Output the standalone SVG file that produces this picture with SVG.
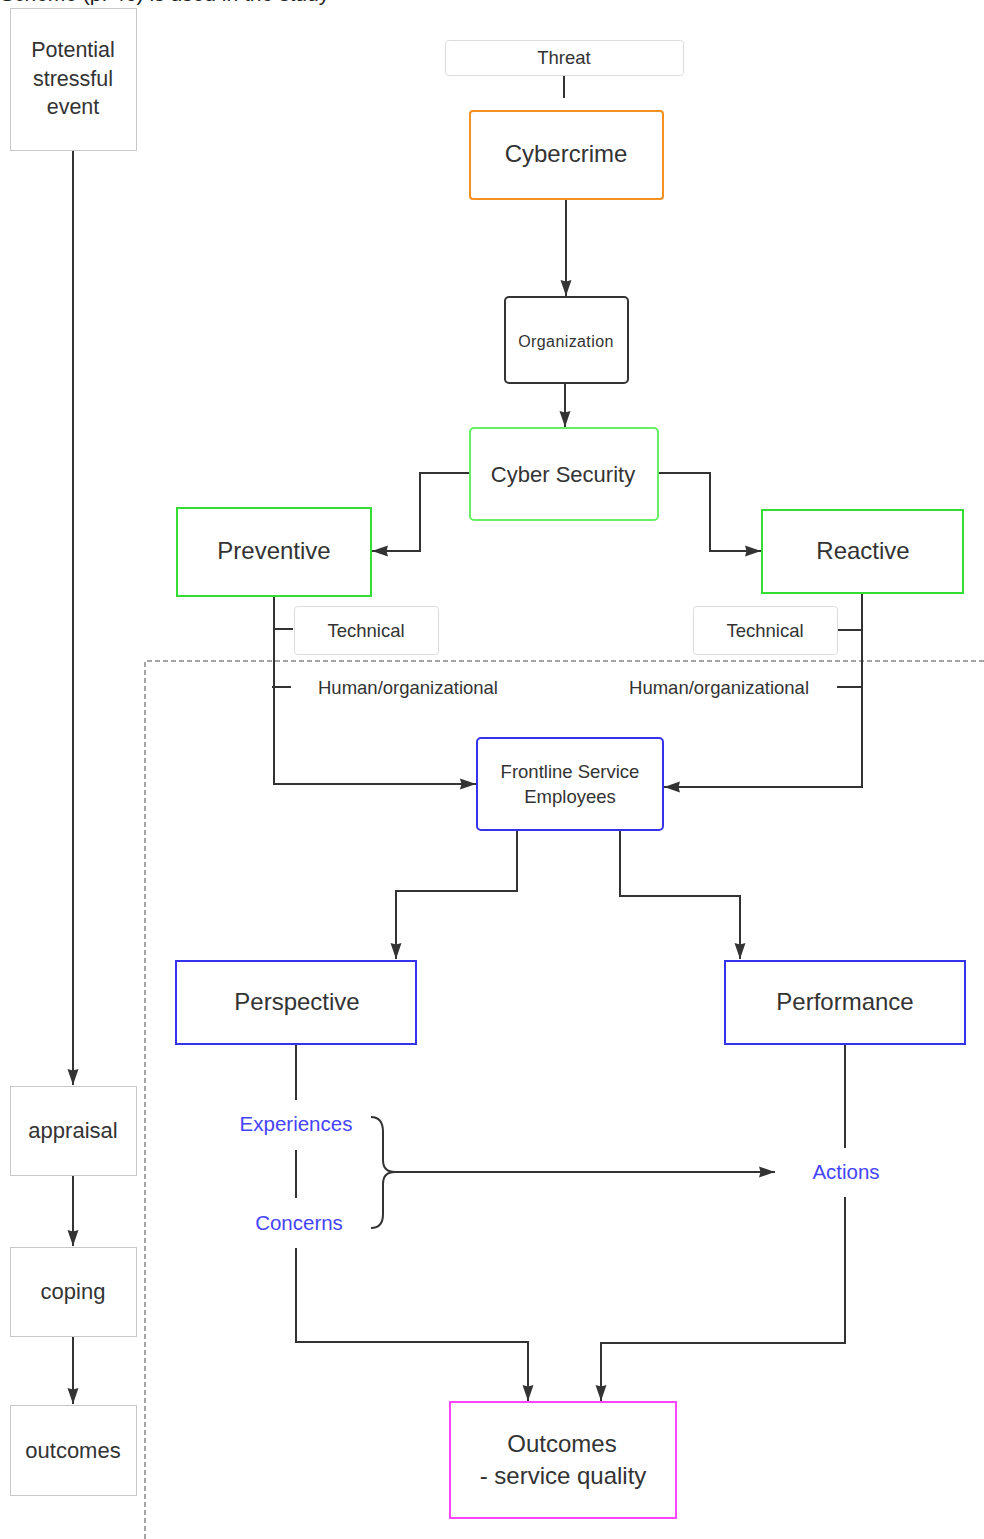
<svg xmlns="http://www.w3.org/2000/svg" width="984" height="1539" viewBox="0 0 984 1539">
<defs>
<marker id="ah" viewBox="0 0 16 12" refX="16" refY="6" markerWidth="16" markerHeight="12" markerUnits="userSpaceOnUse" orient="auto">
<path d="M0,0.5 L16,6 L0,11.5 L1.5,6 Z" fill="#333"/>
</marker>
<style>
text{font-family:"Liberation Sans",Arial,sans-serif;fill:#333;text-anchor:middle}
.c{fill:none;stroke:#333;stroke-width:2}
.a{marker-end:url(#ah)}
.grey{fill:#fff;stroke:#c8c8c8;stroke-width:1}
.lt{fill:#fff;stroke:#dcdcdc;stroke-width:1}
.blue{fill:#fff;stroke:#3333ee;stroke-width:2}
.bl{fill:#4444ff}
.big{font-size:24px}
</style>
</defs>
<rect width="984" height="1539" fill="#fff"/>
<text x="0" y="1" style="text-anchor:start;font-size:21px;fill:#222">Scheme (p. 46) is used in the study</text>

<g id="dashed">
<path d="M145,1539 V661 H984" fill="none" stroke="#888" stroke-width="1.5" stroke-dasharray="5,3"/>
</g>

<g id="connectors">
<path class="c a" d="M73,150 V1085"/>
<path class="c a" d="M73,1175 V1246"/>
<path class="c a" d="M73,1336 V1404"/>
<path class="c" d="M564,76 V98"/>
<path class="c a" d="M566,199 V296"/>
<path class="c a" d="M565,383 V427"/>
<path class="c a" d="M469,473 H420 V551 H372"/>
<path class="c a" d="M658,473 H710 V551 H761"/>
<path class="c a" d="M274,596 V784 H476"/>
<path class="c" d="M274,629 H293"/>
<path class="c" d="M272,687 H291"/>
<path class="c a" d="M862,593 V787 H664"/>
<path class="c" d="M838,630 H862"/>
<path class="c" d="M837,687 H862"/>
<path class="c a" d="M517,830 V891 H396 V959"/>
<path class="c a" d="M620,830 V896 H740 V959"/>
<path class="c" d="M296,1044 V1100"/>
<path class="c" d="M296,1150 V1198"/>
<path class="c a" d="M296,1248 V1342 H528 V1401"/>
<path class="c" d="M845,1044 V1148"/>
<path class="c a" d="M845,1197 V1343 H601 V1401"/>
<path class="c" d="M371,1117 Q383,1117 383,1132 V1160 Q383,1172 395,1172 Q383,1172 383,1184 V1214 Q383,1228 371,1228"/>
<path class="c a" d="M395,1172 H775"/>
</g>

<g id="n-potential">
<rect class="grey" x="10.5" y="8.5" width="126" height="142"/>
<text x="73" y="57" style="font-size:21.5px">Potential</text>
<text x="73" y="86" style="font-size:21.5px">stressful</text>
<text x="73" y="114" style="font-size:21.5px">event</text>
</g>
<g id="n-appraisal">
<rect class="grey" x="10.5" y="1086.5" width="126" height="89"/>
<text x="73" y="1138" style="font-size:22px">appraisal</text>
</g>
<g id="n-coping">
<rect class="grey" x="10.5" y="1247.5" width="126" height="89"/>
<text x="73" y="1299" style="font-size:22px">coping</text>
</g>
<g id="n-outcomes-left">
<rect class="grey" x="10.5" y="1405.5" width="126" height="90"/>
<text x="73" y="1458" style="font-size:22px">outcomes</text>
</g>

<g id="n-threat">
<rect class="lt" x="445.5" y="40.5" width="238" height="35" rx="3"/>
<text x="564" y="64" style="font-size:18.5px">Threat</text>
</g>
<g id="n-cybercrime">
<rect x="470" y="111" width="193" height="88" rx="3" fill="#fff" stroke="#f39020" stroke-width="2"/>
<text class="big" x="566" y="162">Cybercrime</text>
</g>
<g id="n-organization">
<rect x="505" y="297" width="123" height="86" rx="4" fill="#fff" stroke="#333" stroke-width="2"/>
<text x="566" y="347" style="font-size:16px;letter-spacing:0.4px">Organization</text>
</g>
<g id="n-cybersecurity">
<rect x="470" y="428" width="188" height="92" rx="4" fill="#fff" stroke="#66ee66" stroke-width="2"/>
<text x="563" y="482" style="font-size:22px">Cyber Security</text>
</g>
<g id="n-preventive">
<rect x="177" y="508" width="194" height="88" fill="#fff" stroke="#33dd33" stroke-width="2"/>
<text class="big" x="274" y="559">Preventive</text>
</g>
<g id="n-reactive">
<rect x="762" y="510" width="201" height="83" fill="#fff" stroke="#33dd33" stroke-width="2"/>
<text class="big" x="863" y="559">Reactive</text>
</g>
<g id="n-technical-left">
<rect class="lt" x="294.5" y="606.5" width="144" height="48" rx="3"/>
<text x="366" y="637" style="font-size:18.5px">Technical</text>
</g>
<g id="n-technical-right">
<rect class="lt" x="693.5" y="606.5" width="144" height="48" rx="3"/>
<text x="765" y="637" style="font-size:18.5px">Technical</text>
</g>
<g id="n-human-left">
<text x="318" y="694" style="font-size:18.5px;text-anchor:start">Human/organizational</text>
</g>
<g id="n-human-right">
<text x="809" y="694" style="font-size:18.5px;text-anchor:end">Human/organizational</text>
</g>
<g id="n-frontline">
<rect class="blue" x="477" y="738" width="186" height="92" rx="4"/>
<text x="570" y="778" style="font-size:18.5px">Frontline Service</text>
<text x="570" y="803" style="font-size:18.5px">Employees</text>
</g>
<g id="n-perspective">
<rect class="blue" x="176" y="961" width="240" height="83"/>
<text class="big" x="297" y="1010">Perspective</text>
</g>
<g id="n-performance">
<rect class="blue" x="725" y="961" width="240" height="83"/>
<text class="big" x="845" y="1010">Performance</text>
</g>
<g id="n-experiences">
<text class="bl" x="296" y="1131" style="font-size:20.5px">Experiences</text>
</g>
<g id="n-concerns">
<text class="bl" x="299" y="1230" style="font-size:20.5px">Concerns</text>
</g>
<g id="n-actions">
<text class="bl" x="846" y="1179" style="font-size:20.5px">Actions</text>
</g>
<g id="n-outcomes">
<rect x="450" y="1402" width="226" height="116" fill="#fff" stroke="#ff44ff" stroke-width="2"/>
<text class="big" x="562" y="1452">Outcomes</text>
<text class="big" x="563" y="1484">- service quality</text>
</g>
</svg>
